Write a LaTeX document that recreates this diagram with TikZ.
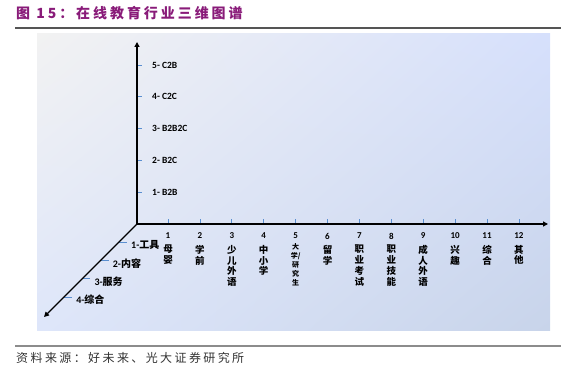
\documentclass[tikz,border=0pt]{standalone}
\usepackage{fontspec}
\newfontfamily\cjk{Noto Sans CJK SC}
\newfontfamily\lat{Carlito}
\usetikzlibrary{arrows.meta, shadings}
\definecolor{titlepurple}{RGB}{137,27,121}
\definecolor{rulegray}{RGB}{85,85,85}
\definecolor{rulelight}{RGB}{140,140,140}
\definecolor{tickblue}{RGB}{91,143,208}
\definecolor{bgtl}{RGB}{242,242,242}
\definecolor{bgtr}{RGB}{214,224,252}
\definecolor{bgbl}{RGB}{222,230,250}
\definecolor{bgbr}{RGB}{200,212,234}
\begin{document}
\begin{tikzpicture}[x=1pt, y=-1pt,
    axis/.style={line width=1.2pt, -{Triangle[length=5pt, width=5pt]}},
    tick/.style={draw=tickblue, line width=0.8pt},
    ylab/.style={anchor=west, inner sep=0pt, font=\lat\bfseries\fontsize{9.5}{11}\selectfont},
    xnum/.style={inner sep=0pt, font=\lat\bfseries\fontsize{9}{10}\selectfont},
    xlab/.style={anchor=north, align=center, inner sep=0pt, font=\cjk\bfseries\fontsize{9.5}{10.7}\selectfont},
    zlab/.style={anchor=west, inner sep=0pt, font=\cjk\bfseries\fontsize{10}{12}\selectfont}]
    \useasboundingbox (0,0) rectangle (561,385);

    % title and rules
    \node [anchor=west, inner sep=0pt, text=titlepurple, font=\cjk\bfseries\fontsize{14}{16}\selectfont\addfontfeature{LetterSpace=21}] (title) at (16,13) {图 15：在线教育行业三维图谱};
    \draw [line width=1.6pt, draw=rulegray] (15,28) -- (561,28);
    \shade [upper left=bgtl, upper right=bgtr, lower left=bgbl, lower right=bgbr] (37,34) rectangle (550,330);
    \draw [line width=1.6pt, draw=rulelight] (15,346) -- (561,346);
    \node [anchor=west, inner sep=0pt, text=black!80, font=\cjk\fontsize{12}{14}\selectfont\addfontfeature{LetterSpace=20}] (source) at (16,358) {资料来源：好未来、光大证券研究所};

    \coordinate (O) at (137,224);
    \coordinate (ytop) at (137,42);
    \coordinate (xend) at (548,224);
    \coordinate (zend) at (44,317);

    % ticks
    \foreach \i in {1,...,12}
        \draw [tick] ({168+31.9*(\i-1)},219) -- ++(0,5);
    \foreach \k/\txt in {1/B2B, 2/B2C, 3/B2B2C, 4/C2C, 5/C2B} {
        \pgfmathsetmacro{\yy}{192-31.75*(\k-1)}
        \draw [tick] (137,\yy) -- (142,\yy);
        \node [ylab] (ylab\k) at (152,\yy) {\k- \txt};
    }
    \foreach \k/\txt in {1/工具, 2/内容, 3/服务, 4/综合} {
        \pgfmathsetmacro{\zy}{242+18.3*(\k-1)}
        \pgfmathsetmacro{\zx}{137-(\zy-224)}
        \draw [tick] (\zx,\zy) -- ++(8,0) coordinate (zt\k);
        \node [zlab] (zlab\k) at ([xshift=4pt, yshift=-3pt]zt\k) {{\lat\bfseries\k-}\txt};
    }

    % axes
    \draw [axis] (O) -- (ytop);
    \draw [axis] (O) -- (xend);
    \draw [axis] (O) -- (zend);

    % category labels
    \foreach \i in {1,...,12}
        \node [xnum] (num\i) at ({168+31.9*(\i-1)},236) {\i};
    \foreach \i/\txt in {1/{母\\婴}, 2/{学\\前}, 3/{少\\儿\\外\\语}, 4/{中\\小\\学}, 6/{留\\学}, 7/{职\\业\\考\\试}, 8/{职\\业\\技\\能}, 9/{成\\人\\外\\语}, 10/{兴\\趣}, 11/{综\\合}, 12/{其\\他}}
        \node [xlab] (lab\i) at ({168+31.9*(\i-1)},245) {\txt};
    \node [xlab, font=\cjk\bfseries\fontsize{7}{9}\selectfont] (lab5) at (295.6,243) {大\\学/\\研\\究\\生};
\end{tikzpicture}
\end{document}
